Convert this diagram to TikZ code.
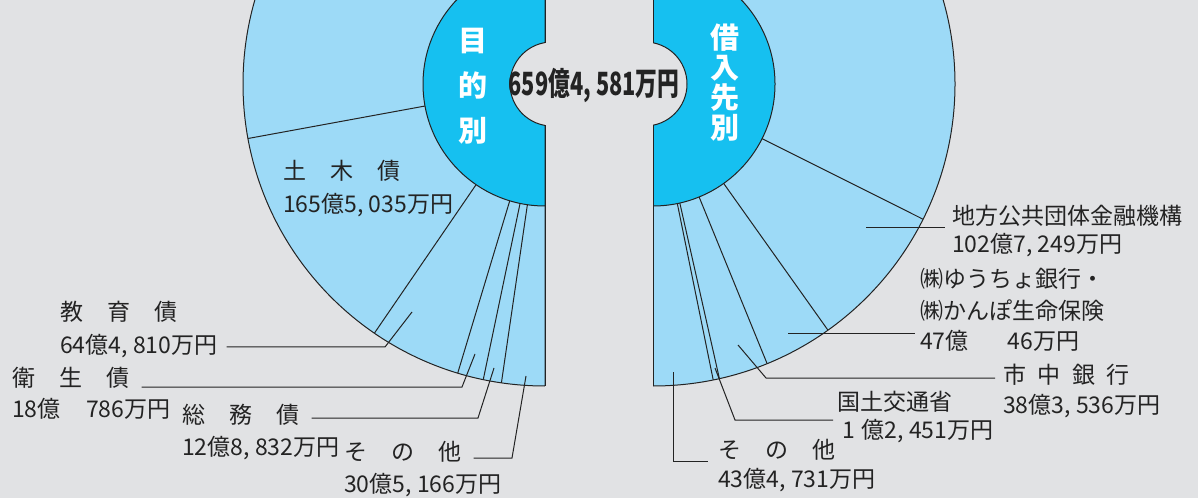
\documentclass[tikz,border=0pt]{standalone}
\usepackage{fontspec}
\setmainfont{Noto Sans CJK JP}
\usetikzlibrary{positioning}
\definecolor{bggray}{RGB}{225,226,228}
\definecolor{paleblue}{RGB}{157,218,247}
\definecolor{deepblue}{RGB}{22,192,240}
\definecolor{inkgray}{RGB}{35,35,35}
\newcommand\kgap{\hspace{1.05em}}

\begin{document}
\begin{tikzpicture}[x=1pt,y=1pt,
  sector/.style={fill=paleblue,draw=inkgray,line width=1pt},
  core/.style={fill=deepblue,draw=inkgray,line width=1pt},
  leader/.style={draw=inkgray,line width=1pt},
  lbl/.style={anchor=base west,inner sep=0pt,text=inkgray,font=\fontsize{23}{28}\selectfont},
  vtext/.style={text=white,align=center,inner sep=0pt}]
 \useasboundingbox (0,0) rectangle (1198,498);
 \clip (0,0) rectangle (1198,498);
 \fill[bggray] (0,0) rectangle (1198,498);
 \coordinate (L) at (545,414);
 \coordinate (R) at (653,414);
 % 目的別
 \filldraw[sector] (L) -- ++(90:302) arc (90:270:302) -- cycle;
 \filldraw[core] (L) -- ++(90:122) arc (90:270:122) -- cycle;
 \foreach \a in {190.4,235.6,253.2,258.2,261.7}
   \draw[leader] (L) ++(\a:122) -- ++(\a:180);
 % 借入先別
 \filldraw[sector] (R) -- ++(90:302) arc (90:-90:302) -- cycle;
 \filldraw[core] (R) -- ++(90:122) arc (90:-90:122) -- cycle;
 \foreach \a in {-26.6,-54.6,-67.8,-77.3,-78.5}
   \draw[leader] (R) ++(\a:122) -- ++(\a:180);
 % notch and gap
 \filldraw[fill=bggray,draw=inkgray,line width=1pt] (552,372) arc (270:90:42) -- (645,456) arc (90:-90:42) -- cycle;
 \fill[bggray] (545,0) rectangle (653,498);
 \draw[leader] (545,498) -- (545,455.4) (545,372.6) -- (545,112);
 \draw[leader] (653,498) -- (653,455.2) (653,372.8) -- (653,112);
 \node[vtext,font=\fontsize{29}{45}\bfseries\selectfont] (mokuteki) at (473,412) {目\\的\\別};
 \node[vtext,font=\fontsize{29}{30}\bfseries\selectfont] (kariire) at (725,415) {借\\入\\先\\別};
 \node[text=inkgray,inner sep=0pt,font=\fontsize{32}{32}\bfseries\selectfont] (total) at (594,413) {\scalebox{0.68}[1]{659億4, 581万円}};
 % labels, left
 \node[lbl] (doboku) at (283,318) {土\kgap 木\kgap 債};
 \node[lbl] (doboku-v) at (283,285) {165億5, 035万円};
 \node[lbl] (kyoiku) at (60,177) {教\kgap 育\kgap 債};
 \node[lbl] (kyoiku-v) at (60,145) {64億4, 810万円};
 \node[lbl] (eisei) at (12,112) {衛\kgap 生\kgap 債};
 \node[lbl] (eisei-v) at (12,81) {18億\hspace{1.1em}786万円};
 \node[lbl] (somu) at (182,75) {総\kgap 務\kgap 債};
 \node[lbl] (somu-v) at (182,43) {12億8, 832万円};
 \node[lbl] (sonota-l) at (344,38) {そ\kgap の\kgap 他};
 \node[lbl] (sonota-l-v) at (344,6) {30億5, 166万円};
 % labels, right
 \node[lbl] (chiho) at (952,273) {地方公共団体金融機構};
 \node[lbl] (chiho-v) at (952,245) {102億7, 249万円};
 \node[lbl] (yucho) at (920,210) {㈱ゆうちょ銀行・};
 \node[lbl] (kanpo) at (920,178) {㈱かんぽ生命保険};
 \node[lbl] (yucho-v) at (920,148) {47億\hspace{1.7em}46万円};
 \node[lbl] (shichu) at (1003,115) {市\hspace{0.5em}中\hspace{0.5em}銀\hspace{0.5em}行};
 \node[lbl] (shichu-v) at (1003,85) {38億3, 536万円};
 \node[lbl] (kokudo) at (837,88) {国土交通省};
 \node[lbl] (kokudo-v) at (842,60) {1\hspace{0.3em}億2, 451万円};
 \node[lbl] (sonota-r) at (718,40) {そ\kgap の\kgap 他};
 \node[lbl] (sonota-r-v) at (718,11) {43億4, 731万円};
 % leader lines
 \coordinate (ky-c) at (385,151); \coordinate (ky-t) at (412,186);
 \coordinate (ei-c) at (462,111); \coordinate (ei-t) at (475,144);
 \coordinate (so-c) at (478,80);  \coordinate (so-t) at (494,130);
 \coordinate (sl-c) at (512,40);  \coordinate (sl-t) at (526,122);
 \coordinate (ch-t) at (866,270);
 \coordinate (yu-t) at (788,164);
 \coordinate (sh-c) at (766,120); \coordinate (sh-t) at (738,153);
 \coordinate (ko-c) at (735,78);  \coordinate (ko-t) at (715,130);
 \coordinate (sr-c) at (673,37);  \coordinate (sr-t) at (673,126);
 \draw[leader] ([xshift=9pt]kyoiku-v.east |- ky-c) -- (ky-c) -- (ky-t);
 \draw[leader] ([xshift=12pt]eisei.east |- ei-c) -- (ei-c) -- (ei-t);
 \draw[leader] ([xshift=12pt]somu.east |- so-c) -- (so-c) -- (so-t);
 \draw[leader] ([xshift=12pt]sonota-l.east |- sl-c) -- (sl-c) -- (sl-t);
 \draw[leader] (ch-t) -- ([xshift=-7pt]chiho.west |- ch-t);
 \draw[leader] (yu-t) -- ([xshift=-5pt]yucho-v.west |- yu-t);
 \draw[leader] (sh-t) -- (sh-c) -- ([xshift=-8pt]shichu.west |- sh-c);
 \draw[leader] (ko-t) -- (ko-c) -- ([xshift=-9pt]kokudo-v.west |- ko-c);
 \draw[leader] (sr-t) -- (sr-c) -- ([xshift=-10pt]sonota-r-v.west |- sr-c);
\end{tikzpicture}
\end{document}
